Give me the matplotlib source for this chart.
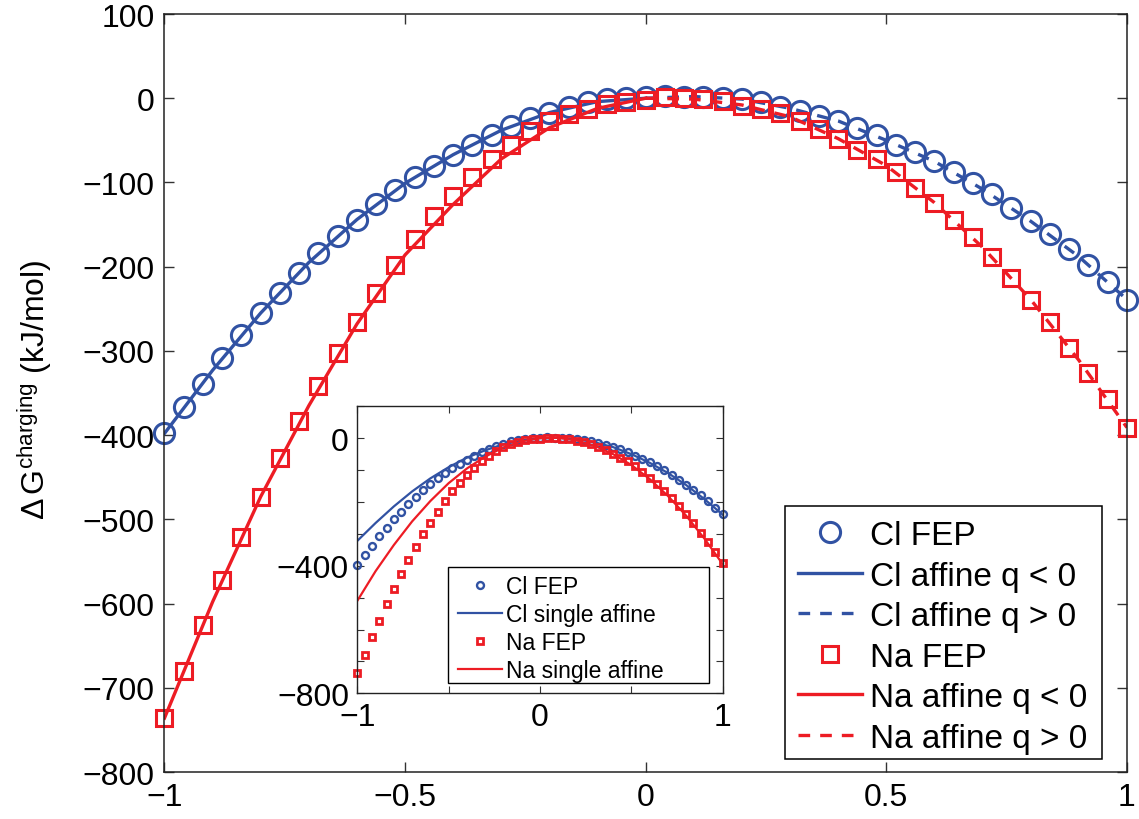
import numpy as np
import matplotlib
matplotlib.use("Agg")
import matplotlib.pyplot as plt
from matplotlib.patches import Rectangle

plt.rcParams['font.family'] = ['Liberation Sans', 'DejaVu Sans']
plt.rcParams['mathtext.fontset'] = 'custom'
plt.rcParams['mathtext.rm'] = 'Liberation Sans'
plt.rcParams['mathtext.it'] = 'Liberation Sans:italic'

# charge q of the FEP points (-1 .. 1, step 0.04)
q_fep = np.round(np.arange(-1, 1.0001, 0.04), 2)

cl_fep = [-398, -367, -339, -308, -281, -255, -231, -207, -184, -163,
          -144, -126, -109, -93, -80, -67, -55, -44, -33, -24,
          -17, -10, -5, -1, 0, 1, 3, 2, 1, 0,
          -1, -5, -10, -15, -21, -27, -35, -44, -55, -64,
          -75, -87, -101, -114, -130, -146, -161, -179, -198, -218, -239]
na_fep = [-736, -680, -625, -572, -521, -473, -427, -383, -342, -302,
          -266, -231, -198, -167, -140, -116, -93, -72, -55, -39,
          -27, -19, -13, -7, -4, -2, 1, 0, -1, -3,
          -9, -13, -18, -27, -37, -49, -61, -72, -88, -106,
          -124, -144, -165, -189, -214, -239, -266, -296, -326, -357, -391]

# affine fits, negative and positive charge branches
q_neg = [-1.0, -0.9, -0.8, -0.7, -0.6, -0.5, -0.4, -0.3, -0.2, -0.1, 0.0]
q_pos = [0.0, 0.1, 0.2, 0.3, 0.4, 0.5, 0.6, 0.7, 0.8, 0.9, 1.0]
cl_aff_neg = [-398, -323, -255, -195, -144, -101, -67, -38, -17, -4, 0]
cl_aff_pos = [0, 2, -1, -12, -27, -50, -75, -108, -146, -188, -239]
na_aff_neg = [-736, -598, -473, -365, -268, -186, -126, -72, -35, -12, 0]
na_aff_pos = [0, -1, -8, -22, -48, -80, -124, -177, -239, -311, -391]

# single affine fits (inset)
q_all = [-1.0, -0.9, -0.8, -0.7, -0.6, -0.5, -0.4, -0.3, -0.2, -0.1, 0.0,
         0.1, 0.2, 0.3, 0.4, 0.5, 0.6, 0.7, 0.8, 0.9, 1.0]
cl_single = [-322, -266, -214, -167, -126, -91, -61, -38, -19, -7, 0,
             1, -3, -13, -28, -50, -77, -109, -147, -191, -240]
na_single = [-510, -417, -335, -261, -197, -141, -95, -58, -29, -10, 0,
             1, -7, -24, -50, -84, -128, -181, -243, -315, -395]

blue = '#3152a3'
red = '#ed1c24'
dash = (0, (3.5, 3))

fig = plt.figure(figsize=(11.39, 8.2), dpi=100)
ax = fig.add_axes([0.1444, 0.0573, 0.8450, 0.9244])

ax.plot(q_fep, cl_fep, 'o', color=blue, mfc='none', ms=14.5, mew=2.2, label='Cl FEP', clip_on=False)
ax.plot(q_neg, cl_aff_neg, '-', color=blue, lw=2.4, label='Cl affine q < 0')
ax.plot(q_pos, cl_aff_pos, linestyle=dash, color=blue, lw=2.4, label='Cl affine q > 0')
ax.plot(q_fep, na_fep, 's', color=red, mfc='none', ms=11.5, mew=2.2, label='Na FEP', clip_on=False)
ax.plot(q_neg, na_aff_neg, '-', color=red, lw=2.4, label='Na affine q < 0')
ax.plot(q_pos, na_aff_pos, linestyle=dash, color=red, lw=2.4, label='Na affine q > 0')

ax.set_xlim(-1, 1)
ax.set_ylim(-800, 100)
ax.set_xticks([-1, -0.5, 0, 0.5, 1])
ax.set_xticklabels(['\u22121', '\u22120.5', '0', '0.5', '1'])
ax.set_yticks(range(-800, 101, 100))
ax.tick_params(direction='in', length=7, width=1, top=True, right=True,
               labelsize=23, pad=7, color='#333333')
for s in ax.spines.values():
    s.set_linewidth(1.1)
    s.set_color('#222222')
ax.set_ylabel(r'$\Delta\,\mathrm{G}^{\mathrm{charging}}$ (kJ/mol)', fontsize=23)
ax.yaxis.set_label_coords(-0.115, 0.505)

# legend box drawn separately so it keeps the wide padding of the original
ax.add_patch(Rectangle((0.6892, 0.0732), 0.2783, 0.3085, transform=fig.transFigure,
                       facecolor='white', edgecolor='black', lw=1.1,
                       clip_on=False, zorder=4))
ax.legend(loc='upper left', bbox_to_anchor=(0.7006, 0.3646),
          bbox_transform=fig.transFigure, borderaxespad=0, frameon=False,
          fontsize=24, handlelength=1.92, handletextpad=0.24,
          labelspacing=0.285, borderpad=0)

# inset
ins = fig.add_axes([0.3137, 0.1533, 0.3208, 0.3500])
ins.plot(q_fep, cl_fep, 'o', color=blue, mfc='none', ms=5, mew=1.7, label='Cl FEP', clip_on=False)
ins.plot(q_all, cl_single, '-', color=blue, lw=1.6, label='Cl single affine')
ins.plot(q_fep, na_fep, 's', color=red, mfc='none', ms=4.5, mew=2.0, label='Na FEP', clip_on=False)
ins.plot(q_all, na_single, '-', color=red, lw=1.6, label='Na single affine')
ins.set_xlim(-1, 1)
ins.set_ylim(-800, 100)
ins.set_xticks([-1, -0.5, 0, 0.5, 1])
ins.set_xticklabels(['\u22121', '', '0', '', '1'])
ins.set_yticks(range(-800, 101, 100))
ins.set_yticklabels(['\u2212800', '', '', '', '\u2212400', '', '', '', '0', ''])
ins.tick_params(direction='in', length=5, width=0.8, top=True, right=True,
                labelsize=23, pad=6, color='#333333')
for s in ins.spines.values():
    s.set_linewidth(1.0)
    s.set_color('#222222')

ins.add_patch(Rectangle((0.3933, 0.1659), 0.2292, 0.1415, transform=fig.transFigure,
                        facecolor='white', edgecolor='black', lw=1.0,
                        clip_on=False, zorder=4))
ins.legend(loc='upper left', bbox_to_anchor=(0.4021, 0.2975),
           bbox_transform=fig.transFigure, borderaxespad=0, frameon=False,
           fontsize=16.5, handlelength=1.92, handletextpad=0.16,
           labelspacing=0.22, borderpad=0)

fig.savefig('out.png', dpi=100)
